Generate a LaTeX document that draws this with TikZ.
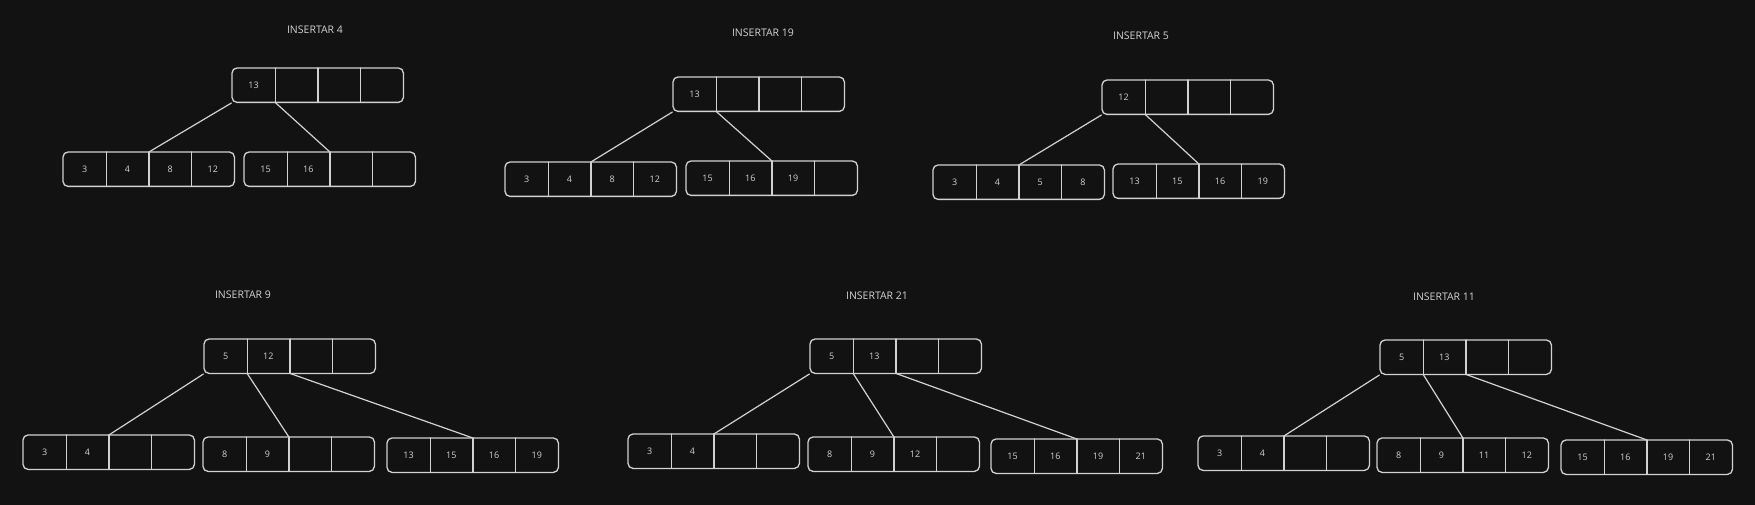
\documentclass[tikz,border=0pt]{standalone}
\usepackage{fontspec}
\setmainfont{Open Sans}
\usetikzlibrary{fit}
\definecolor{fondo}{HTML}{121212}
\definecolor{trazo}{HTML}{D2D2D2}
\begin{document}
\begin{tikzpicture}[x=1pt,y=-1pt,line cap=round,line join=round,font=\fontsize{9}{11}\selectfont]
	\tikzset{celda/.style={minimum width=42.75pt,minimum height=34pt,inner sep=0pt,anchor=north west,text=trazo},
		caja/.style={draw=trazo,line width=1.3pt,rounded corners=5pt,inner sep=0pt},
		arista/.style={draw=trazo,line width=1.2pt},
		titulo/.style={text=trazo,font=\fontsize{10.5}{12}\selectfont}}
	\fill[fondo] (0,0) rectangle (1755,505);
	% nodo: nombre(x,y){claves}
	\def\nodo#1(#2,#3)#4{%
		\foreach \k [count=\i] in {#4}{
			\node[celda] (#1-\i) at ({#2+(\i-1)*42.75},#3) {\k};}
		\node[caja,fit=(#1-1)(#1-4)] (#1) {};
		\foreach \i in {1,2,3}{
			\draw[arista] (#1-\i.north east)--(#1-\i.south east);}}
	% fila de arriba
	\node[titulo] (t1) at (315,30) {INSERTAR 4};
	\nodo r1(232,68){13,{},{},{}}
	\nodo i1(63,152){3,4,8,12}
	\nodo d1(244,152){15,16,{},{}}
	\node[titulo] (t2) at (763,33) {INSERTAR 19};
	\nodo r2(673,77){13,{},{},{}}
	\nodo i2(505,162){3,4,8,12}
	\nodo d2(686,161){15,16,19,{}}
	\node[titulo] (t3) at (1141,36) {INSERTAR 5};
	\nodo r3(1102,80){12,{},{},{}}
	\nodo i3(933,165){3,4,5,8}
	\nodo d3(1113,164){13,15,16,19}
	\foreach \p in {1,2,3}{
		\draw[arista] (r\p.south west)--(i\p-2.north east);
		\draw[arista] (r\p-1.south east)--(d\p-2.north east);}
	% fila de abajo
	\node[titulo] (t4) at (243,295) {INSERTAR 9};
	\nodo r4(204,339){5,12,{},{}}
	\nodo i4(23,435){3,4,{},{}}
	\nodo m4(203,437){8,9,{},{}}
	\nodo d4(387,438){13,15,16,19}
	\node[titulo] (t5) at (877,296) {INSERTAR 21};
	\nodo r5(810,339){5,13,{},{}}
	\nodo i5(628,434){3,4,{},{}}
	\nodo m5(808,437){8,9,12,{}}
	\nodo d5(991,439){15,16,19,21}
	\node[titulo] (t6) at (1444,297) {INSERTAR 11};
	\nodo r6(1380,340){5,13,{},{}}
	\nodo i6(1198,436){3,4,{},{}}
	\nodo m6(1377,438){8,9,11,12}
	\nodo d6(1561,440){15,16,19,21}
	\foreach \p in {4,5,6}{
		\draw[arista] (r\p.south west)--(i\p-2.north east);
		\draw[arista] (r\p-1.south east)--(m\p-2.north east);
		\draw[arista] (r\p-2.south east)--(d\p-2.north east);}
\end{tikzpicture}
\end{document}
